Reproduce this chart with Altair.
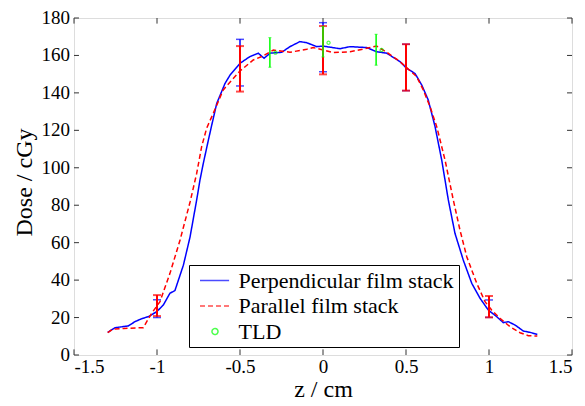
import altair as alt
import pandas as pd

# Perpendicular film stack (blue, solid)
perp_z = [-1.297, -1.253, -1.173, -1.133, -1.092, -1.052, -1.002, -0.962, -0.922, -0.892,
          -0.841, -0.801, -0.761, -0.741, -0.721, -0.690, -0.670, -0.640, -0.590, -0.560, -0.500,
          -0.440, -0.390, -0.355, -0.319, -0.249, -0.199, -0.139, -0.098, -0.038, 0.000,
          0.102, 0.163, 0.263, 0.323, 0.384, 0.464, 0.504, 0.554, 0.595, 0.634, 0.675,
          0.715, 0.755, 0.795, 0.845, 0.896, 0.946, 0.996, 1.046, 1.086, 1.116, 1.157,
          1.207, 1.247, 1.291]
perp_d = [12.1, 14.6, 15.5, 17.8, 19.4, 20.5, 23.1, 26.7, 33.0, 34.4,
          48.0, 63.0, 82.8, 93.5, 102.4, 115.0, 122.9, 134.4, 145.1, 149.5, 155.8,
          159.4, 161.2, 158.5, 161.2, 161.7, 164.7, 167.4, 166.8, 164.7, 165.0,
          163.6, 164.7, 164.2, 162.0, 161.2, 156.7, 153.1, 150.4, 144.2, 136.2, 122.0,
          104.2, 82.8, 65.0, 50.7, 38.3, 30.3, 24.0, 20.5, 17.3, 17.8, 16.0,
          12.8, 12.1, 11.0]

# Parallel film stack (red, dashed)
par_z = [-1.297, -1.263, -1.200, -1.083, -1.032, -0.982, -0.922, -0.861, -0.800, -0.761,
         -0.731, -0.701, -0.661, -0.601, -0.500, -0.420, -0.369, -0.299, -0.199, -0.098,
         -0.058, 0.000, 0.062, 0.163, 0.263, 0.323, 0.384, 0.464, 0.504, 0.564, 0.604,
         0.645, 0.685, 0.735, 0.785, 0.825, 0.866, 0.926, 0.976, 1.016, 1.066, 1.127,
         1.187, 1.237, 1.291]
par_d = [11.9, 13.9, 14.2, 14.6, 22.3, 28.5, 43.6, 61.4, 82.0, 97.0,
         111.3, 121.1, 129.1, 141.6, 151.7, 157.6, 159.4, 162.9, 161.7, 163.3,
         164.2, 162.9, 161.5, 162.0, 163.8, 165.0, 161.7, 156.7, 153.5, 148.7, 141.6,
         132.6, 122.0, 104.2, 82.8, 66.8, 52.5, 38.3, 28.5, 24.0, 19.6, 15.1,
         11.9, 10.3, 10.1]

# Error bars
err_z = [-1.0, -0.5, 0.0, 0.5, 1.0]
perp_lo = [20.0, 143.7, 151.3, 141.2, 20.1]
perp_hi = [29.5, 168.6, 177.5, 166.0, 29.4]
par_lo = [20.8, 140.7, 149.9, 141.2, 20.1]
par_hi = [32.0, 165.0, 175.7, 166.0, 31.5]

# TLD
tld_z = [-0.32, 0.0, 0.32]
tld_d = [161.5, 166.8, 162.9]
tld_lo = [153.7, 159.2, 154.8]
tld_hi = [169.5, 175.5, 171.3]

x_ticks = [-1.5, -1.0, -0.5, 0.0, 0.5, 1.0, 1.5]
y_ticks = [0, 20, 40, 60, 80, 100, 120, 140, 160, 180]
y_labels = ["0", "20", "40", "60", "80", "100", "120", "140", "160", "180"]

S_PERP = "Perpendicular film stack"
S_PAR = "Parallel film stack"
S_TLD = "TLD"
SERIES = [S_PERP, S_PAR, S_TLD]
FONT = "Liberation Serif"

lines_df = pd.concat([
    pd.DataFrame({"z": perp_z, "dose": perp_d, "series": S_PERP}),
    pd.DataFrame({"z": par_z, "dose": par_d, "series": S_PAR}),
])
perp_err = pd.DataFrame({"z": err_z, "lo": perp_lo, "hi": perp_hi})
par_err = pd.DataFrame({"z": err_z, "lo": par_lo, "hi": par_hi})
tld_df = pd.DataFrame({"z": tld_z, "dose": tld_d, "lo": tld_lo, "hi": tld_hi, "series": S_TLD})
xt_df = pd.DataFrame({"v": x_ticks})
yt_df = pd.DataFrame({"v": y_ticks, "lab": y_labels})

xscale = alt.Scale(domain=[-1.5, 1.5], nice=False, zero=False)
yscale = alt.Scale(domain=[0, 180], nice=False)

LINE_SYM = "M-0.75,0L4.1,0"
CIRC_SYM = "M2.25,0A0.5,0.5,0,1,1,1.25,0A0.5,0.5,0,1,1,2.25,0Z"
color_scale = alt.Scale(domain=SERIES, range=["#0000ff", "#ff0000", "#00ff00"])
dash_scale = alt.Scale(domain=SERIES, range=[[1, 0], [5, 3], [1, 0]])
shape_scale = alt.Scale(domain=SERIES, range=[LINE_SYM, LINE_SYM, CIRC_SYM])

legend = alt.Legend(
    title=None, orient="none", legendX=115, legendY=247,
    symbolSize=144, symbolStrokeWidth=1.5, symbolFillColor="transparent",
    labelFont=FONT, labelFontSize=22, labelColor="black", labelOffset=23,
    rowPadding=3.5, padding=4.5, strokeColor="black", fillColor="white",
    labelLimit=400,
)

LBL = 19
xaxis = alt.Axis(values=x_ticks, labelExpr="'' + datum.value", ticks=False, grid=False, domain=False,
                 labelFont=FONT, labelFontSize=LBL, labelColor="black", labelPadding=2,
                 labelOverlap=False,
                 title="z / cm", titleFont=FONT, titleFontSize=24, titleFontWeight="normal",
                 titleColor="black", titleBaseline="alphabetic", titleY=41)
yaxis = alt.Axis(values=y_ticks, ticks=False, grid=False, domain=False, labels=False,
                 title="Dose / cGy", titleFont=FONT, titleFontSize=24, titleFontWeight="normal",
                 titleColor="black", titleBaseline="alphabetic", titleX=-43, titleY=164,
                 titleAngle=270, titleAlign="center")

X = alt.X("z:Q", scale=xscale, axis=xaxis)

lines = alt.Chart(lines_df).mark_line(strokeWidth=1.5).encode(
    x=X,
    y=alt.Y("dose:Q", scale=yscale, axis=yaxis),
    color=alt.Color("series:N", scale=color_scale, legend=legend),
    strokeDash=alt.StrokeDash("series:N", scale=dash_scale, legend=legend),
    order="z:Q",
)

def bars(df, color, thick, cap, capthick):
    return alt.Chart(df).mark_errorbar(color=color, thickness=thick,
                                       ticks={"size": cap, "thickness": capthick}).encode(
        x=X, y=alt.Y("lo:Q", scale=yscale, axis=yaxis), y2="hi:Q")

perp_bars = bars(perp_err, "#0000ff", 1.5, 8, 1.5)
par_bars = bars(par_err, "#ff0000", 2, 8, 2)
tld_bars = bars(tld_df, "#00ff00", 1.5, 3, 1)
tld_pts = alt.Chart(tld_df).mark_point(filled=False, size=40, strokeWidth=1.2).encode(
    x=X, y=alt.Y("dose:Q", scale=yscale, axis=yaxis),
    color=alt.Color("series:N", scale=color_scale, legend=legend),
    shape=alt.Shape("series:N", scale=shape_scale, legend=legend),
)

tick_color = "#333333"
XV = alt.X("v:Q", scale=xscale, axis=xaxis)
YV = alt.Y("v:Q", scale=yscale, axis=yaxis)
xt_bot = alt.Chart(xt_df).mark_rule(color=tick_color).encode(x=XV, y=alt.datum(0), y2=alt.datum(3))
xt_top = alt.Chart(xt_df).mark_rule(color=tick_color).encode(x=XV, y=alt.datum(180), y2=alt.datum(177))
yt_l = alt.Chart(yt_df).mark_rule(color=tick_color).encode(y=YV, x=alt.datum(-1.5), x2=alt.datum(-1.47))
yt_r = alt.Chart(yt_df).mark_rule(color=tick_color).encode(y=YV, x=alt.datum(1.5), x2=alt.datum(1.47))
y_lab = alt.Chart(yt_df).mark_text(align="right", baseline="middle", dx=-4, font=FONT,
                                   fontSize=LBL, color="black").encode(
    y=YV, x=alt.datum(-1.5), text="lab:N")

chart = alt.layer(
    lines, xt_bot, xt_top, yt_l, yt_r, y_lab, perp_bars, par_bars, tld_bars, tld_pts
).properties(
    width=498, height=337,
    autosize=alt.AutoSizeParams(type="none"),
    padding={"left": 66, "top": 10, "right": 3, "bottom": 50},
).configure_view(stroke="#333333", strokeWidth=1).configure_axis(
    labelOverlap=False, labelFont=FONT, labelColor="black", titleFont=FONT
).configure_legend(labelFont=FONT).configure(background="white")

chart.save("out.html", embed_options={"renderer": "svg", "actions": False})
